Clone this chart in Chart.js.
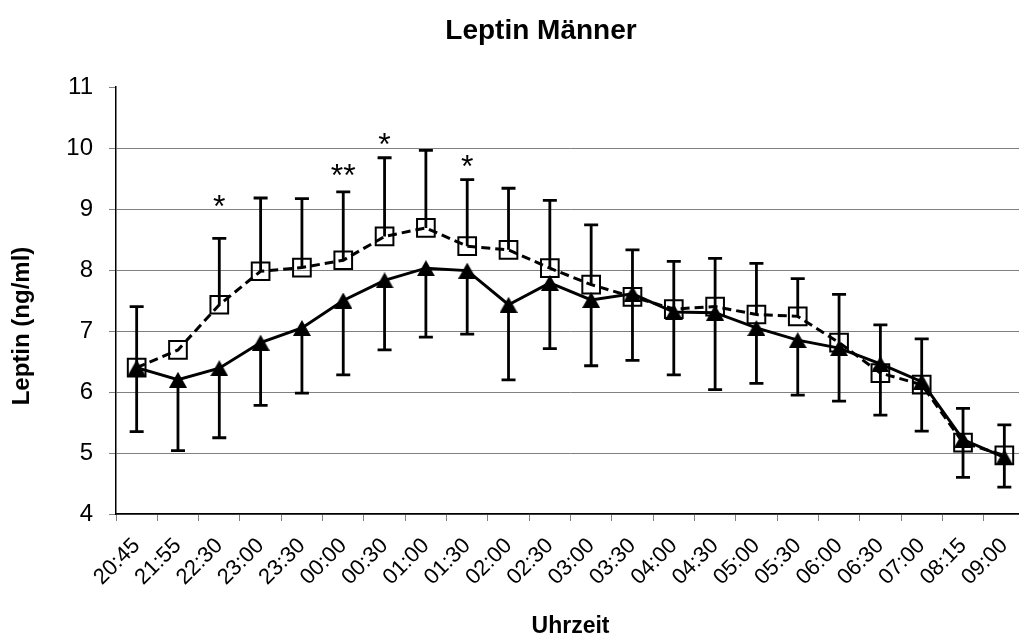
<!DOCTYPE html>
<html>
<head>
<meta charset="utf-8">
<title>Leptin Männer</title>
<script src="https://cdn.jsdelivr.net/npm/chart.js@4.4.1/dist/chart.umd.min.js"></script>
<style>
  html, body { margin: 0; padding: 0; background: #fff; overflow: hidden; }
  #wrap { width: 1083px; height: 641px; }
</style>
</head>
<body>
<div id="wrap"><canvas id="leptin" width="1083" height="641"></canvas></div>
<script>
const uhrzeit = ['20:45', '21:55', '22:30', '23:00', '23:30', '00:00', '00:30', '01:00', '01:30', '02:00', '02:30',
  '03:00', '03:30', '04:00', '04:30', '05:00', '05:30', '06:00', '06:30', '07:00', '08:15', '09:00'];

// offene Quadrate, gestrichelt (Fehlerbalken nach oben)
const leptinQuadrat = [6.40, 6.69, 7.43, 7.98, 8.04, 8.16, 8.55, 8.69, 8.39, 8.33, 8.03,
  7.76, 7.56, 7.36, 7.40, 7.27, 7.24, 6.81, 6.31, 6.12, 5.17, 4.96];
const fehlerQuadrat = [1.00, null, 1.09, 1.20, 1.13, 1.12, 1.29, 1.27, 1.09, 1.01, 1.11,
  0.98, 0.77, 0.78, 0.79, 0.84, 0.62, 0.79, 0.79, 0.75, 0.56, 0.50];

// gefüllte Dreiecke, durchgezogen (Fehlerbalken nach unten)
const leptinDreieck = [6.40, 6.20, 6.39, 6.81, 7.05, 7.50, 7.83, 8.03, 7.99, 7.43, 7.79,
  7.51, 7.61, 7.31, 7.30, 7.05, 6.85, 6.72, 6.46, 6.17, 5.22, 4.93];
const fehlerDreieck = [1.05, 1.16, 1.14, 1.03, 1.07, 1.22, 1.14, 1.13, 1.04, 1.23, 1.08,
  1.08, 1.09, 1.03, 1.26, 0.91, 0.90, 0.87, 0.84, 0.81, 0.62, 0.49];

// Signifikanzsterne
const sternZeit = ['22:30', '00:00', '00:30', '01:30'];
const sternText = ['*', '**', '*', '*'];
const sternHoehe = [9.17, 9.68, 10.18, 9.82];

const yTicks = [4, 5, 6, 7, 8, 9, 10, 11];

const schrift = 'Arial, "Liberation Sans", sans-serif';
const gitter = '#808080';

function dreieck(w, h) {
  const c = document.createElement('canvas');
  c.width = w;
  c.height = h;
  const g = c.getContext('2d');
  g.fillStyle = '#000';
  g.beginPath();
  g.moveTo(w / 2, 0);
  g.lineTo(w, h);
  g.lineTo(0, h);
  g.closePath();
  g.fill();
  return c;
}

const beschriftung = {
  id: 'beschriftung',
  // Fehlerbalken unter den Linien und Markern
  beforeDatasetsDraw(chart) {
    const {ctx, scales: {x, y}} = chart;
    const kappe = 7;
    ctx.save();
    ctx.strokeStyle = '#000';
    ctx.lineWidth = 2.8;
    const balken = (i, von, bis) => {
      const px = x.getPixelForValue(i);
      const y0 = y.getPixelForValue(von);
      const y1 = y.getPixelForValue(bis);
      ctx.beginPath();
      ctx.moveTo(px, y0);
      ctx.lineTo(px, y1);
      ctx.moveTo(px - kappe, y1);
      ctx.lineTo(px + kappe, y1);
      ctx.stroke();
    };
    uhrzeit.forEach((t, i) => {
      if (fehlerQuadrat[i] != null) balken(i, leptinQuadrat[i], leptinQuadrat[i] + fehlerQuadrat[i]);
      if (fehlerDreieck[i] != null) balken(i, leptinDreieck[i], leptinDreieck[i] - fehlerDreieck[i]);
    });
    ctx.restore();
  },
  afterDatasetsDraw(chart) {
    const {ctx, scales: {x, y}} = chart;
    ctx.save();
    ctx.fillStyle = '#000';
    ctx.font = '32px ' + schrift;
    ctx.textAlign = 'center';
    ctx.textBaseline = 'alphabetic';
    sternZeit.forEach((t, k) => {
      const px = x.getPixelForValue(uhrzeit.indexOf(t));
      const py = y.getPixelForValue(sternHoehe[k]);
      ctx.fillText(sternText[k], px, py + 18);
    });
    ctx.restore();
  },
  afterDraw(chart) {
    const {ctx} = chart;
    ctx.save();
    ctx.fillStyle = '#000';
    ctx.textAlign = 'center';
    ctx.textBaseline = 'middle';
    ctx.font = 'bold 28px ' + schrift;
    ctx.fillText('Leptin Männer', 541, 31);
    ctx.font = 'bold 24px ' + schrift;
    ctx.translate(22, 326);
    ctx.rotate(-Math.PI / 2);
    ctx.fillText('Leptin (ng/ml)', 0, 0);
    ctx.restore();
  }
};

new Chart(document.getElementById('leptin'), {
  type: 'line',
  data: {
    labels: uhrzeit,
    datasets: [
      {
        label: 'Dreieck',
        data: leptinDreieck,
        borderColor: '#000',
        borderWidth: 3,
        pointStyle: dreieck(18, 16),
        pointRadius: 9,
        pointHoverRadius: 9,
        tension: 0,
        fill: false
      },
      {
        label: 'Quadrat',
        data: leptinQuadrat,
        borderColor: '#000',
        borderWidth: 3,
        borderDash: [9, 5],
        pointStyle: 'rect',
        pointRadius: 12.5,
        pointHoverRadius: 12.5,
        pointBorderWidth: 2,
        pointBorderColor: '#000',
        pointBackgroundColor: 'rgba(0,0,0,0)',
        tension: 0,
        fill: false
      }
    ]
  },
  options: {
    responsive: false,
    devicePixelRatio: 1,
    animation: false,
    layout: { padding: { left: 0, right: 58, top: 87, bottom: 0 } },
    plugins: {
      legend: { display: false },
      tooltip: { enabled: false },
      title: { display: false }
    },
    scales: {
      x: {
        offset: true,
        afterFit: (s) => { s.height = 127; },
        grid: {
          offset: true,
          drawOnChartArea: false,
          drawTicks: true,
          tickLength: 7,
          tickColor: gitter
        },
        border: { color: '#000', width: 1.5 },
        ticks: {
          color: '#000',
          font: { family: schrift, size: 22 },
          minRotation: 45,
          maxRotation: 45,
          autoSkip: false,
          padding: 12
        },
        title: {
          display: true,
          text: 'Uhrzeit',
          color: '#000',
          font: { family: schrift, size: 23, weight: 'bold' },
          padding: { top: 0, bottom: 1 }
        }
      },
      y: {
        min: 4,
        max: 11,
        afterFit: (s) => { s.width = 116; },
        afterBuildTicks: (s) => { s.ticks = yTicks.map(v => ({ value: v })); },
        grid: {
          color: (c) => (c.tick && c.tick.value === 11 ? 'rgba(0,0,0,0)' : gitter),
          tickColor: gitter,
          tickLength: 7
        },
        border: { color: '#000', width: 1.5 },
        ticks: {
          color: '#000',
          font: { family: schrift, size: 24 },
          padding: 16
        }
      }
    }
  },
  plugins: [beschriftung]
});
</script>
</body>
</html>
